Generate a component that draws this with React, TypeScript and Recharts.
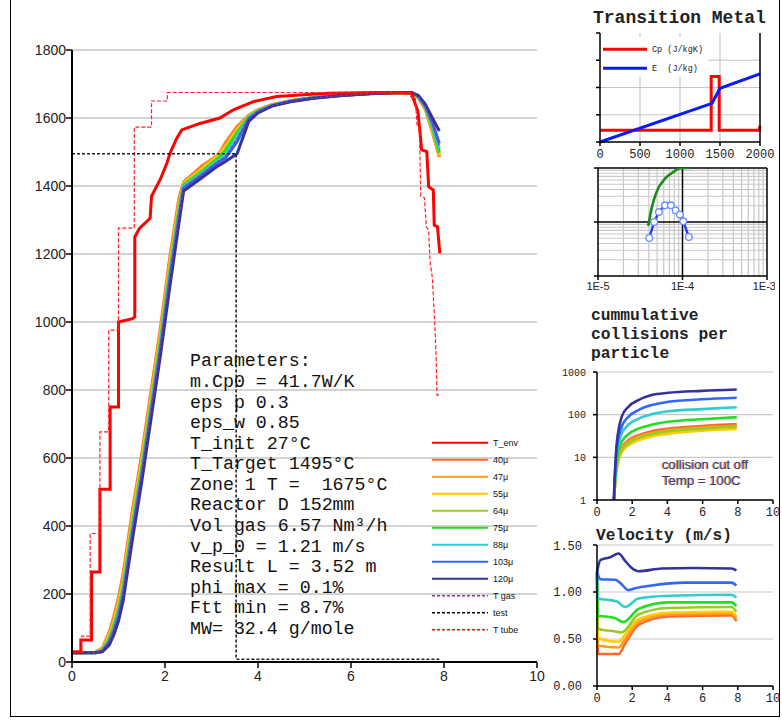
import React from 'react';
import { LineChart, Line, XAxis, YAxis, CartesianGrid, ReferenceLine } from 'recharts';

type P = [number, number];
const toXY = (a: P[]) => a.map(([x, y]) => ({ x, y }));

// ---------- main chart ----------
const mainXTicks = [0, 2, 4, 6, 8, 10];
const mainYTicks = [0, 200, 400, 600, 800, 1000, 1200, 1400, 1600, 1800];

const particleX = [0, 0.5, 0.65, 0.8, 0.9, 1.0, 1.1, 1.3, 1.5, 1.7, 1.9, 2.1, 2.3, 2.4, 2.8, 3.15, 3.3, 3.55, 3.8, 4.0, 4.3, 4.7, 5.2, 5.8, 6.4, 7.0, 7.3, 7.45, 7.6, 7.75, 7.9];
const p40 = [27, 29, 41, 88, 134, 190, 260, 448, 612, 798, 982, 1188, 1365, 1412, 1460, 1492, 1528, 1575, 1608, 1625, 1639, 1651, 1660, 1667, 1672, 1675, 1674, 1659, 1624, 1558, 1485];
const p47 = [27, 28, 39, 82, 126, 180, 248, 435, 600, 785, 970, 1175, 1355, 1410, 1455, 1493, 1522, 1570, 1607, 1624, 1639, 1651, 1660, 1667, 1672, 1675, 1674, 1660, 1626, 1562, 1487];
const p55 = [27, 28, 37, 76, 118, 170, 236, 422, 588, 772, 958, 1162, 1345, 1408, 1450, 1490, 1515, 1565, 1606, 1623, 1638, 1650, 1660, 1667, 1672, 1675, 1674, 1661, 1628, 1566, 1490];
const p64 = [27, 28, 35, 70, 110, 160, 225, 410, 575, 760, 945, 1150, 1335, 1405, 1445, 1485, 1505, 1560, 1605, 1622, 1638, 1650, 1660, 1667, 1672, 1675, 1674, 1662, 1630, 1570, 1495];
const p75 = [27, 28, 34, 66, 104, 152, 216, 400, 568, 752, 938, 1142, 1328, 1402, 1442, 1481, 1505, 1555, 1603, 1621, 1637, 1650, 1660, 1667, 1672, 1675, 1674, 1662, 1631, 1574, 1500];
const p88 = [27, 27, 33, 62, 98, 145, 208, 392, 560, 745, 930, 1135, 1320, 1398, 1438, 1476, 1490, 1545, 1601, 1620, 1637, 1649, 1659, 1667, 1672, 1675, 1675, 1663, 1633, 1580, 1510];
const p103 = [27, 27, 32, 58, 92, 135, 198, 380, 550, 735, 920, 1122, 1310, 1393, 1433, 1470, 1482, 1530, 1598, 1618, 1636, 1649, 1659, 1666, 1671, 1675, 1675, 1664, 1636, 1588, 1525];
const p120 = [27, 27, 30, 50, 80, 120, 180, 360, 530, 715, 900, 1100, 1290, 1385, 1425, 1460, 1472, 1495, 1590, 1615, 1635, 1648, 1658, 1666, 1671, 1675, 1675, 1666, 1640, 1600, 1562];
const tGas = [27, 27, 33, 60, 95, 140, 203, 386, 555, 740, 925, 1128, 1315, 1395, 1435, 1473, 1486, 1538, 1600, 1619, 1636, 1649, 1659, 1666, 1671, 1675, 1675, 1663, 1634, 1584, 1518];

const tEnv: P[] = [[0, 30], [0.19, 30], [0.19, 65], [0.42, 65], [0.42, 265], [0.6, 265], [0.6, 508], [0.82, 508], [0.82, 750], [1.0, 750], [1.0, 1000], [1.3, 1010], [1.35, 1015], [1.35, 1250], [1.45, 1275], [1.68, 1305], [1.71, 1370], [1.9, 1420], [2.04, 1467], [2.11, 1497], [2.25, 1540], [2.36, 1565], [2.75, 1584], [3.18, 1600], [3.47, 1624], [3.9, 1648], [4.4, 1663], [4.9, 1668], [5.5, 1673], [6.5, 1675], [7.3, 1673], [7.44, 1619], [7.52, 1506], [7.63, 1501], [7.67, 1398], [7.77, 1388], [7.79, 1285], [7.86, 1280], [7.91, 1202]];
const tTube: P[] = [[0, 30], [0.21, 30], [0.21, 76], [0.39, 76], [0.39, 378], [0.6, 378], [0.6, 677], [0.79, 677], [0.79, 976], [1.0, 976], [1.0, 1276], [1.34, 1276], [1.34, 1573], [1.71, 1573], [1.71, 1650], [2.05, 1650], [2.05, 1675], [7.25, 1675], [7.3, 1660], [7.38, 1660], [7.42, 1580], [7.47, 1575], [7.5, 1370], [7.58, 1365], [7.62, 1280], [7.67, 1270], [7.7, 1177], [7.75, 1130], [7.8, 1000], [7.83, 900], [7.85, 785], [7.92, 785]];
const testLine: P[] = [[0, 1495], [3.53, 1495], [3.53, 8], [7.9, 8]];

const sizeLabels = ['40μ', '47μ', '55μ', '64μ', '75μ', '88μ', '103μ', '120μ'];
const sizeKeys = ['p40', 'p47', 'p55', 'p64', 'p75', 'p88', 'p103', 'p120'];
const sizeColors = ['#ff6a2a', '#ff9a20', '#ffcc00', '#99cc22', '#22dd22', '#33cccc', '#3366ff', '#333399'];
const particleSeries = [p40, p47, p55, p64, p75, p88, p103, p120];

const particleRows = particleX.map((x, i) => {
  const r: any = { x, tGas: tGas[i] };
  sizeKeys.forEach((k, j) => { r[k] = particleSeries[j][i]; });
  return r;
});

const paramLines = [
  'Parameters:',
  'm.Cp0 = 41.7W/K',
  'eps p 0.3',
  'eps_w 0.85',
  'T_init 27°C',
  'T_Target 1495°C',
  'Zone 1 T =  1675°C',
  'Reactor D 152mm',
  'Vol gas 6.57 Nm³/h',
  'v_p_0 = 1.21 m/s',
  'Result L = 3.52 m',
  'phi max = 0.1%',
  'Ftt min = 8.7%',
  'MW= 32.4 g/mole',
];

const legendItems = [
  { label: 'T_env', color: '#ff0000', dash: false },
  ...sizeLabels.map((l, i) => ({ label: l, color: sizeColors[i], dash: false })),
  { label: 'T gas', color: '#993399', dash: true },
  { label: 'test', color: '#000000', dash: true },
  { label: 'T tube', color: '#ff0000', dash: true },
];

// ---------- inset 1: Transition Metal ----------
const tmXTicks = [0, 500, 1000, 1500, 2000];
const tmYTicks = [0, 1, 2, 3, 4];
const cpData: P[] = [[0, 0.43], [1390, 0.43], [1390, 2.4], [1490, 2.4], [1490, 0.43], [1990, 0.43], [2000, 0.6]];
const eData: P[] = [[0, 0], [1400, 1.42], [1500, 1.97], [2000, 2.5]];

// ---------- inset 2: log-log ----------
const logXTicks = [1e-5, 1e-4, 1e-3];
const logXLabels = ['1E-5', '1E-4', '1E-3'];
const logXMinor = [2e-5, 3e-5, 4e-5, 5e-5, 6e-5, 7e-5, 8e-5, 9e-5, 2e-4, 3e-4, 4e-4, 5e-4, 6e-4, 7e-4, 8e-4, 9e-4];
const logYTicks = [1, 10, 100];
const logYMinor = [2, 3, 4, 5, 6, 7, 8, 9, 20, 30, 40, 50, 60, 70, 80, 90];
const greenCurve: P[] = [[3.93e-5, 8.4], [4.3e-5, 17.7], [4.93e-5, 35.9], [6.2e-5, 63.4], [7.78e-5, 84.3], [9.77e-5, 100], [1.23e-4, 100]];
const blueCircles: P[] = [[4.04e-5, 5.06], [4.62e-5, 10], [5.26e-5, 15.3], [6.2e-5, 20.4], [7.3e-5, 20.4], [8.3e-5, 16.4], [9.33e-5, 13.7], [1.02e-4, 10.3], [1.19e-4, 5.27]];

// ---------- inset 3: collisions ----------
const smallXTicks = [0, 2, 4, 6, 8, 10];
const colYTicks = [1, 10, 100, 1000];
const c40: P[] = [[0.97, 1], [1.0, 1.8], [1.05, 3.5], [1.12, 6.5], [1.25, 12], [1.4, 17], [1.78, 25], [2.35, 33], [3.1, 41], [4.05, 47], [5.95, 54], [7.94, 60]];
const c47: P[] = [[0.97, 1], [1.0, 1.7], [1.05, 3.3], [1.12, 6], [1.25, 11], [1.4, 15.5], [1.78, 23], [2.35, 30], [3.1, 37], [4.05, 43], [5.95, 50], [7.94, 55]];
const c55: P[] = [[0.97, 1], [1.0, 1.5], [1.05, 2.8], [1.12, 5], [1.25, 9.5], [1.4, 13], [1.78, 19], [2.35, 25], [3.1, 31], [4.05, 36], [5.95, 42], [7.94, 46]];
const c64: P[] = [[0.97, 1], [1.0, 1.6], [1.05, 3], [1.12, 5.5], [1.25, 10.5], [1.4, 14.5], [1.78, 21.5], [2.35, 28.5], [3.1, 35], [4.05, 41], [5.95, 47], [7.94, 52]];
const c75: P[] = [[0.97, 1], [1.0, 2], [1.05, 4], [1.12, 8], [1.25, 16], [1.4, 23], [1.78, 35], [2.35, 47], [3.1, 58], [4.05, 68], [5.95, 78], [7.94, 87]];
const c88: P[] = [[0.97, 1], [1.0, 2], [1.05, 5], [1.12, 11], [1.25, 22], [1.4, 36], [1.78, 58], [2.35, 80], [3.1, 102], [4.05, 120], [5.95, 135], [7.94, 149]];
const c103: P[] = [[0.97, 1], [1.0, 2.5], [1.05, 6], [1.12, 15], [1.25, 32], [1.4, 52], [1.78, 89], [2.35, 128], [3.1, 168], [4.05, 200], [5.95, 230], [7.94, 250]];
const c120: P[] = [[0.95, 1], [1.0, 3], [1.05, 8], [1.12, 21], [1.25, 50], [1.4, 89], [1.78, 153], [2.35, 219], [3.1, 288], [4.05, 326], [5.95, 362], [7.94, 390]];
const collisionSeries = [c40, c47, c55, c64, c75, c88, c103, c120];

// ---------- inset 4: velocity ----------
const velYTicks = [0, 0.5, 1, 1.5];
const v40: P[] = [[0, 1.21], [0.05, 0.34], [1.23, 0.34], [1.6, 0.45], [2.36, 0.65], [4.06, 0.74], [7.64, 0.75], [7.92, 0.69]];
const v47: P[] = [[0, 1.21], [0.05, 0.43], [1.23, 0.41], [1.6, 0.5], [2.36, 0.68], [4.06, 0.76], [7.64, 0.77], [7.92, 0.72]];
const v55: P[] = [[0, 1.21], [0.05, 0.51], [1.23, 0.47], [1.6, 0.55], [2.36, 0.71], [4.06, 0.78], [7.64, 0.79], [7.92, 0.74]];
const v64: P[] = [[0, 1.21], [0.05, 0.61], [1.04, 0.58], [1.4, 0.57], [2.36, 0.76], [4.06, 0.83], [7.64, 0.84], [7.92, 0.79]];
const v75: P[] = [[0, 1.21], [0.05, 0.745], [0.47, 0.74], [1.04, 0.72], [1.5, 0.68], [2.36, 0.82], [4.06, 0.89], [7.64, 0.89], [7.92, 0.85]];
const v88: P[] = [[0, 1.21], [0.04, 0.93], [0.47, 0.92], [1.13, 0.9], [1.6, 0.84], [2.36, 0.93], [4.06, 0.96], [7.64, 0.97], [7.92, 0.94]];
const v103: P[] = [[0, 1.21], [0.2, 1.135], [1.04, 1.13], [1.3, 1.1], [1.79, 1.02], [2.17, 1.04], [3.11, 1.07], [5.0, 1.1], [7.64, 1.1], [7.92, 1.07]];
const v120: P[] = [[0, 1.21], [0.19, 1.34], [0.75, 1.37], [1.23, 1.41], [1.6, 1.33], [2.08, 1.24], [2.36, 1.22], [3.68, 1.25], [5.5, 1.255], [7.64, 1.25], [7.92, 1.23]];
const velocitySeries = [v40, v47, v55, v64, v75, v88, v103, v120];

// ---------- styles ----------
const SANS = '"Liberation Sans", Arial, sans-serif';
const MONO = '"Liberation Mono", "Courier New", monospace';
const abs = (left: number, top: number): React.CSSProperties => ({ position: 'absolute', left, top });
const blackAxis = { stroke: '#000', strokeWidth: 1.5 };

export default function App() {
  return (
    <div style={{ position: 'absolute', left: 0, top: 0, width: 782, height: 723, background: '#fff', overflow: 'hidden' }}>
      {/* outer frame */}
      <div style={{ position: 'absolute', left: 10, top: 0, width: 770, height: 717, boxSizing: 'border-box', borderLeft: '1.5px solid #000', borderRight: '1.5px solid #000', borderBottom: '1.5px solid #000' }} />

      {/* main chart */}
      <div style={abs(0, 0)}>
        <LineChart width={560} height={700} data={particleRows} margin={{ top: 50, right: 23, left: 12, bottom: 8 }}>
          <CartesianGrid vertical={false} stroke="#c4c4c4" strokeWidth={1.3} />
          <XAxis type="number" dataKey="x" domain={[0, 10]} ticks={mainXTicks} height={30} tickSize={6} tickMargin={3}
            axisLine={{ stroke: '#000', strokeWidth: 2 }} tickLine={blackAxis}
            tick={{ fill: '#222', fontSize: 14, fontFamily: SANS }} allowDataOverflow />
          <YAxis type="number" domain={[0, 1800]} ticks={mainYTicks} width={60} tickSize={6} tickMargin={0}
            axisLine={{ stroke: '#000', strokeWidth: 2 }} tickLine={blackAxis}
            tick={{ fill: '#222', fontSize: 14, fontFamily: SANS }} allowDataOverflow />
          {sizeKeys.map((k, j) => (
            <Line key={k} type="linear" dataKey={k} stroke={sizeColors[j]} strokeWidth={3} dot={false} isAnimationActive={false} />
          ))}
          <Line type="linear" dataKey="tGas" stroke="#993399" strokeWidth={1.3} strokeDasharray="3 2" dot={false} isAnimationActive={false} />
          <Line type="linear" data={toXY(tEnv)} dataKey="y" stroke="#ff0000" strokeWidth={3} dot={false} isAnimationActive={false} />
          <Line type="linear" data={toXY(tTube)} dataKey="y" stroke="#ff2020" strokeWidth={1.2} strokeDasharray="4 2" dot={false} isAnimationActive={false} />
          <Line type="linear" data={toXY(testLine)} dataKey="y" stroke="#222" strokeWidth={1.6} strokeDasharray="3 2" dot={false} isAnimationActive={false} />
        </LineChart>
      </div>

      {/* parameters text */}
      <div style={{ ...abs(190, 351.4), fontFamily: MONO, fontSize: 18.3, lineHeight: '20.58px', color: '#111', whiteSpace: 'pre' }}>
        {paramLines.map((l) => <div key={l}>{l}</div>)}
      </div>

      {/* main legend */}
      <svg style={abs(425, 432)} width={120} height={210}>
        {legendItems.map((it, i) => {
          const y = 10.7 + i * 17;
          return (
            <g key={it.label}>
              <line x1={7} x2={63} y1={y} y2={y} stroke={it.color} strokeWidth={it.dash ? 1.4 : 2} strokeDasharray={it.dash ? '3 2' : undefined} />
              <text x={68} y={y} dy="0.35em" fontSize={9} fontFamily={SANS} fill="#111">{it.label}</text>
            </g>
          );
        })}
      </svg>

      {/* inset 1 title */}
      <div style={{ ...abs(593, 7), fontFamily: MONO, fontWeight: 'bold', fontSize: 18, lineHeight: '22px', color: '#222', whiteSpace: 'pre' }}>Transition Metal</div>

      {/* inset 1 */}
      <div style={abs(560, 25)}>
        <LineChart width={215} height={145} margin={{ top: 8, right: 10, left: 30, bottom: 8 }}>
          {[500, 1000, 1500].map((v) => <ReferenceLine key={'gx' + v} x={v} stroke="#c8c8c8" strokeWidth={1.2} />)}
          {[1, 2, 3].map((v) => <ReferenceLine key={'gy' + v} y={v} stroke="#c8c8c8" strokeWidth={1.2} />)}
          <XAxis type="number" dataKey="x" domain={[0, 2000]} ticks={tmXTicks} height={20} tickSize={4} tickMargin={3}
            axisLine={blackAxis} tickLine={blackAxis} tick={{ fill: '#222', fontSize: 12, fontFamily: MONO }} />
          <YAxis type="number" domain={[0, 4]} ticks={tmYTicks} width={10} tickSize={4} tickFormatter={() => ''}
            axisLine={blackAxis} tickLine={blackAxis} />
          <YAxis yAxisId="r" orientation="right" type="number" domain={[0, 4]} ticks={tmYTicks} width={5} tickSize={4}
            tickFormatter={() => ''} axisLine={blackAxis} tickLine={blackAxis} />
          <Line type="linear" data={toXY(cpData)} dataKey="y" stroke="#ff0000" strokeWidth={3} dot={false} isAnimationActive={false} />
          <Line type="linear" data={toXY(eData)} dataKey="y" stroke="#0a1aff" strokeWidth={3} dot={false} isAnimationActive={false} />
        </LineChart>
      </div>
      <svg style={abs(601, 37)} width={107} height={40}>
        <rect x={0} y={0} width={107} height={40} fill="#fff" />
        <line x1={2} x2={46} y1={12.3} y2={12.3} stroke="#ff0000" strokeWidth={3} />
        <line x1={2} x2={46} y1={31.3} y2={31.3} stroke="#0a1aff" strokeWidth={3} />
        <text x={51} y={12.3} dy="0.35em" fontSize={8.5} fontFamily={MONO} fill="#222" style={{ whiteSpace: 'pre' }}>Cp (J/kgK)</text>
        <text x={51} y={31.3} dy="0.35em" fontSize={8.5} fontFamily={MONO} fill="#222" style={{ whiteSpace: 'pre' }}>E  (J/kg)</text>
      </svg>

      {/* inset 2: log-log */}
      <div style={abs(560, 160)}>
        <LineChart width={215} height={140} margin={{ top: 8, right: 8, left: 28, bottom: 6 }}>
          {logXMinor.map((v) => <ReferenceLine key={'mx' + v} x={v} stroke="#c8c8c8" strokeWidth={1.2} />)}
          {logYMinor.map((v) => <ReferenceLine key={'my' + v} y={v} stroke="#c8c8c8" strokeWidth={1.2} />)}
          <ReferenceLine x={1e-4} stroke="#000" strokeWidth={1.5} />
          <ReferenceLine x={1e-3} stroke="#000" strokeWidth={1.5} />
          <ReferenceLine y={10} stroke="#000" strokeWidth={1.5} />
          <ReferenceLine y={100} stroke="#000" strokeWidth={1.5} />
          <XAxis type="number" dataKey="x" scale="log" domain={[1e-5, 1e-3]} ticks={logXTicks} height={18} tickSize={4} tickMargin={2}
            tickFormatter={(_v: any, i: number) => logXLabels[i]} axisLine={blackAxis} tickLine={blackAxis}
            tick={{ fill: '#222', fontSize: 11, fontFamily: SANS }} allowDataOverflow />
          <YAxis type="number" scale="log" domain={[1, 100]} ticks={logYTicks} width={10} tickSize={4} tickFormatter={() => ''}
            axisLine={blackAxis} tickLine={blackAxis} allowDataOverflow />
          <Line type="monotone" data={toXY(greenCurve)} dataKey="y" stroke="#1a8a1a" strokeWidth={2.6} dot={false} isAnimationActive={false} />
          <Line type="linear" data={toXY(blueCircles)} dataKey="y" stroke="#1f3fff" strokeWidth={2.4}
            dot={{ r: 3.3, stroke: '#6a8cff', strokeWidth: 1.3, fill: '#fff' }} isAnimationActive={false} />
        </LineChart>
      </div>

      {/* inset 3 title */}
      <div style={{ ...abs(591, 307.3), fontFamily: MONO, fontWeight: 'bold', fontSize: 16.3, lineHeight: '18.7px', color: '#222', whiteSpace: 'pre' }}>
        <div>cummulative</div>
        <div>collisions per</div>
        <div>particle</div>
      </div>

      {/* inset 3: collisions */}
      <div style={abs(555, 362)}>
        <LineChart width={225} height={165} margin={{ top: 10, right: 7, left: 12, bottom: 7 }}>
          <CartesianGrid vertical={false} stroke="#c8c8c8" strokeWidth={1.2} />
          <XAxis type="number" dataKey="x" domain={[0, 10]} ticks={smallXTicks} height={20} tickSize={4} tickMargin={3}
            axisLine={blackAxis} tickLine={blackAxis} tick={{ fill: '#222', fontSize: 12, fontFamily: MONO }} />
          <YAxis type="number" scale="log" domain={[1, 1000]} ticks={colYTicks} width={30} tickSize={4} tickMargin={7}
            axisLine={blackAxis} tickLine={blackAxis} tick={{ fill: '#222', fontSize: 10, fontFamily: MONO }} allowDataOverflow />
          {collisionSeries.map((s, j) => (
            <Line key={'c' + j} type="monotone" data={toXY(s)} dataKey="y" stroke={sizeColors[j]} strokeWidth={2.6} dot={false} isAnimationActive={false} />
          ))}
        </LineChart>
      </div>
      <div style={{ ...abs(662, 457.2), fontFamily: SANS, fontSize: 13.2, lineHeight: '16px', color: '#2a3590', textShadow: '-1px 0 0 #e8962a', whiteSpace: 'pre' }}>
        <div>collision cut off</div>
        <div>Temp = 100C</div>
      </div>

      {/* inset 4 title */}
      <div style={{ ...abs(596, 525.5), fontFamily: MONO, fontWeight: 'bold', fontSize: 16.2, lineHeight: '20px', color: '#222', whiteSpace: 'pre' }}>Velocity (m/s)</div>

      {/* inset 4: velocity */}
      <div style={abs(545, 538)}>
        <LineChart width={235} height={178} margin={{ top: 7, right: 7, left: 12, bottom: 8 }}>
          <CartesianGrid vertical={false} stroke="#c8c8c8" strokeWidth={1.2} />
          <XAxis type="number" dataKey="x" domain={[0, 10]} ticks={smallXTicks} height={22} tickSize={4} tickMargin={3}
            axisLine={blackAxis} tickLine={blackAxis} tick={{ fill: '#222', fontSize: 12, fontFamily: MONO }} />
          <YAxis type="number" domain={[0, 1.5]} ticks={velYTicks} width={40} tickSize={4} tickMargin={11}
            tickFormatter={(v: number) => v.toFixed(2)}
            axisLine={blackAxis} tickLine={blackAxis} tick={{ fill: '#222', fontSize: 12, fontFamily: MONO }} />
          {velocitySeries.map((s, j) => (
            <Line key={'v' + j} type="monotone" data={toXY(s)} dataKey="y" stroke={sizeColors[j]} strokeWidth={2.6} dot={false} isAnimationActive={false} />
          ))}
        </LineChart>
      </div>
    </div>
  );
}
